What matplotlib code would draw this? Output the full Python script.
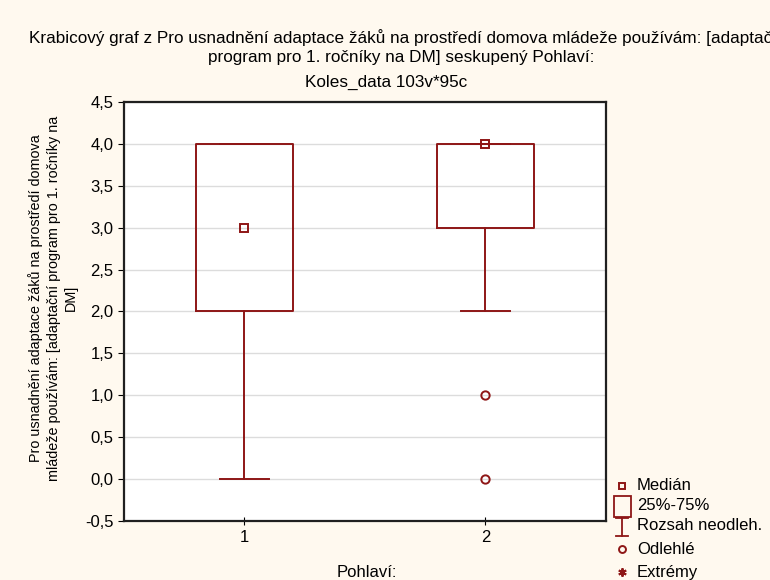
import matplotlib
matplotlib.use("Agg")
import matplotlib.pyplot as plt
from matplotlib.lines import Line2D
from matplotlib.patches import Rectangle

plt.rcParams['font.family'] = ['Liberation Sans', 'DejaVu Sans']

# Box plot statistics per group
groups = ["1", "2"]
medians = [3.0, 4.0]
q1 = [2.0, 3.0]
q3 = [4.0, 4.0]
whisk_lo = [0.0, 2.0]
whisk_hi = [4.0, 4.0]
outliers = [[], [1.0, 0.0]]
y_ticks = [-0.5, 0.0, 0.5, 1.0, 1.5, 2.0, 2.5, 3.0, 3.5, 4.0, 4.5]

RED = '#8E1616'
BG = '#FFF9EF'
FS = 12

fig = plt.figure(figsize=(7.7, 5.8), dpi=100, facecolor=BG)
ax = fig.add_axes([0.161, 0.1017, 0.626, 0.7225])
ax.set_facecolor('white')

stats = []
for i in range(len(groups)):
    stats.append(dict(med=medians[i], q1=q1[i], q3=q3[i],
                      whislo=whisk_lo[i], whishi=whisk_hi[i],
                      fliers=outliers[i], label=groups[i]))
positions = list(range(1, len(groups) + 1))
ax.bxp(stats, positions=positions, widths=0.4, showfliers=True,
       boxprops=dict(color=RED, linewidth=1.4),
       whiskerprops=dict(color=RED, linewidth=1.4),
       capprops=dict(color=RED, linewidth=1.4),
       capwidths=0.2,
       medianprops=dict(linestyle='none'),
       flierprops=dict(marker='o', markersize=6, markerfacecolor='none',
                       markeredgecolor=RED, markeredgewidth=1.4))
ax.plot(positions, medians, linestyle='none', marker='s', markersize=6,
        markerfacecolor='none', markeredgecolor=RED, markeredgewidth=1.4,
        zorder=5)

ax.set_xlim(0.5, 2.5)
ax.set_ylim(-0.5, 4.5)
ax.set_yticks(y_ticks)
ax.set_yticklabels([f"{v:.1f}".replace('.', ',') for v in y_ticks])
ax.set_xticks(positions)
ax.set_xticklabels(groups)
ax.yaxis.grid(True, color='#DCDCDC', linewidth=1.0)
ax.set_axisbelow(True)
ax.tick_params(axis='both', labelsize=FS, colors='black', length=4, width=0.8)
ax.tick_params(axis='x', direction='inout', length=6)
for s in ax.spines.values():
    s.set_color('#202020')
    s.set_linewidth(1.6)

# Titles (the first line runs past the right edge of the figure)
TFS = 12.3
fig.text(0.530, 0.936,
         "Krabicový graf z Pro usnadnění adaptace žáků na prostředí domova mládeže používám: [adaptační",
         ha='center', va='center', fontsize=TFS)
fig.text(0.521, 0.901, "program pro 1. ročníky na DM] seskupený Pohlaví:",
         ha='center', va='center', fontsize=TFS)
fig.text(0.501, 0.858, "Koles_data 103v*95c", ha='center', va='center', fontsize=TFS)

# Axis labels
fig.text(0.069, 0.486,
         "Pro usnadnění adaptace žáků na prostředí domova\nmládeže používám: [adaptační program pro 1. ročníky na\nDM]",
         rotation=90, ha='center', va='center', fontsize=10.4, linespacing=1.3)
fig.text(0.477, 0.013, "Pohlaví:", ha='center', va='center', fontsize=FS)

# Legend drawn at figure level
W, H = 770, 580
def fx(px):
    return px / W
def fy(py):
    return 1 - py / H

mx = 622
tx = 637
fig.add_artist(Line2D([fx(mx)], [fy(486)], marker='s', markersize=5,
                      markerfacecolor='none', markeredgecolor=RED,
                      markeredgewidth=1.4, linestyle='none'))
fig.text(fx(tx), fy(486), "Medián", va='center', fontsize=FS)
fig.add_artist(Rectangle((fx(614), fy(517)), fx(631) - fx(614), fy(496) - fy(517),
                         transform=fig.transFigure, facecolor='none',
                         edgecolor=RED, linewidth=1.3))
fig.text(fx(tx), fy(506), "25%-75%", va='center', fontsize=FS)
fig.add_artist(Line2D([fx(mx), fx(mx)], [fy(518), fy(536)], color=RED, linewidth=1.3))
fig.add_artist(Line2D([fx(616), fx(628)], [fy(518), fy(518)], color=RED, linewidth=1.3))
fig.add_artist(Line2D([fx(616), fx(628)], [fy(536), fy(536)], color=RED, linewidth=1.3))
fig.text(fx(tx), fy(526), "Rozsah neodleh.", va='center', fontsize=FS)
fig.add_artist(Line2D([fx(mx)], [fy(549)], marker='o', markersize=5,
                      markerfacecolor='none', markeredgecolor=RED,
                      markeredgewidth=1.4, linestyle='none'))
fig.text(fx(tx), fy(549), "Odlehlé", va='center', fontsize=FS)
fig.add_artist(Line2D([fx(mx)], [fy(572)], marker=(6, 2, 0), markersize=6,
                      color=RED, markeredgewidth=1.4, linestyle='none'))
fig.text(fx(tx), fy(572), "Extrémy", va='center', fontsize=FS)

fig.savefig("out.png", dpi=100, facecolor=BG)
